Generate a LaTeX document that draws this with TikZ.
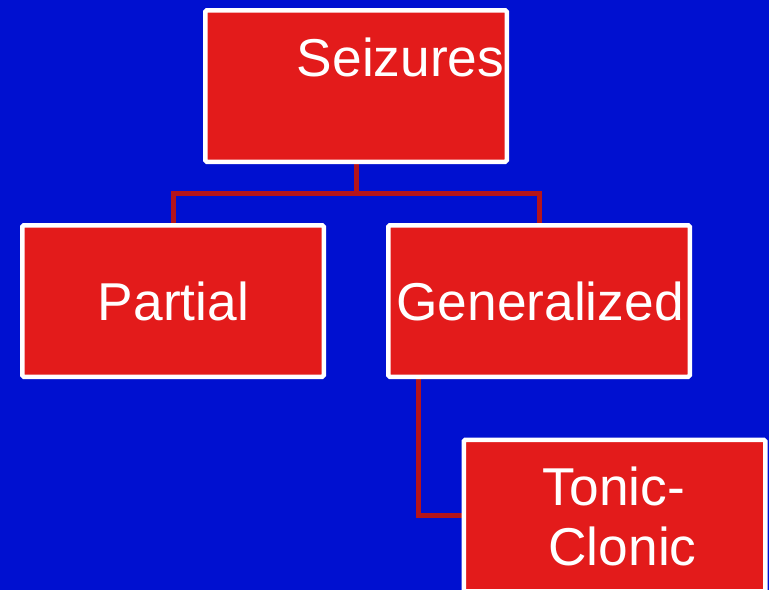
\documentclass[tikz,border=0pt]{standalone}
\usepackage{fontspec}
\setmainfont{Liberation Sans}
\usetikzlibrary{backgrounds}
\definecolor{bgblue}{RGB}{0,16,208}
\definecolor{boxred}{RGB}{227,27,27}
\definecolor{linkred}{RGB}{181,20,26}
\tikzset{
  box/.style={draw=white, fill=boxred, line width=4.5pt, rounded corners=1.5pt,
    minimum width=301.5pt, minimum height=151.5pt, inner sep=0pt},
  lbl/.style={text=white, font=\fontsize{53.3}{60}\selectfont, inner sep=0pt, anchor=base},
  link/.style={draw=linkred, line width=5pt}
}
\begin{document}
\begin{tikzpicture}[x=1pt,y=-1pt]
\useasboundingbox (0,0) rectangle (769,590);
\node[box] (seiz) at (356,86) {};
\node[box] (part) at (173,301) {};
\node[box] (gen) at (539,301) {};
\node[box] (tonic) at (614.5,515.5) {};
\node[lbl] (tseiz) at (400.5,76) {Seizures};
\node[lbl] (tpart) at (173.5,320) {Partial};
\node[lbl] (tgen) at (540,320) {Generalized};
\node[lbl] (ttonic1) at (614,505) {Tonic-};
\node[lbl] (ttonic2) at (622.5,565) {Clonic};
\coordinate (gdrop) at ([xshift=32pt]gen.south west);
\begin{scope}[on background layer]
\fill[bgblue] (0,0) rectangle (769,590);
\draw[link] (seiz.south) -- ++(0,29) coordinate (mid) -| (part.north);
\draw[link] (mid) -| (gen.north);
\draw[link] (gdrop) |- (tonic.west);
\end{scope}
\end{tikzpicture}
\end{document}
